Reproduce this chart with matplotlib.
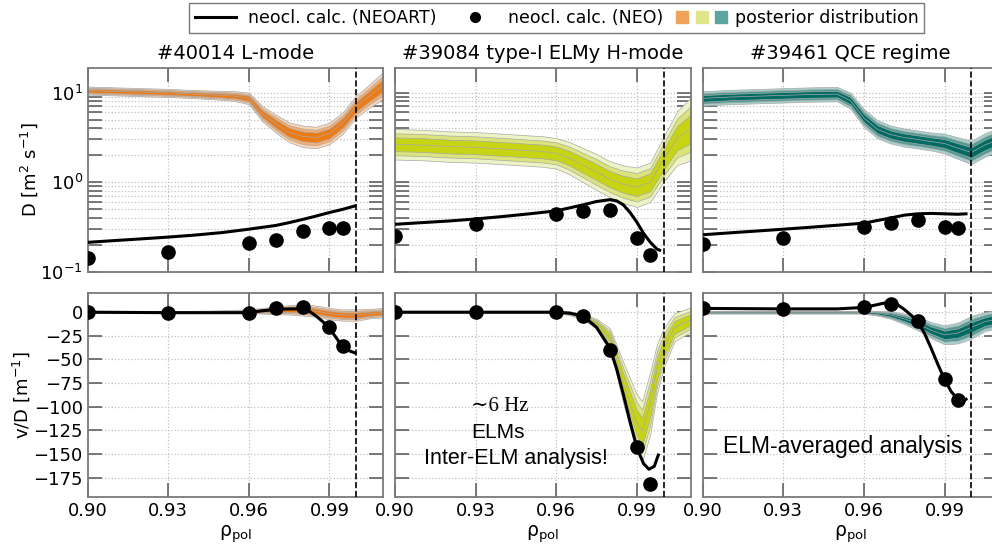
import numpy as np
import matplotlib
matplotlib.use("Agg")
import matplotlib.pyplot as plt
from matplotlib.lines import Line2D
from matplotlib.legend_handler import HandlerTuple
from matplotlib.ticker import LogLocator, FixedLocator, NullFormatter

plt.rcParams['font.family'] = ['DejaVu Sans']
plt.rcParams['mathtext.fontset'] = 'dejavusans'

titles = ["#40014 L-mode", "#39084 type-I ELMy H-mode", "#39461 QCE regime"]

# ---- NEO points (same radial positions for all shots)
neo_rho = [0.90, 0.93, 0.96, 0.97, 0.98, 0.99, 0.995]
neo_D_L = [0.142, 0.166, 0.212, 0.227, 0.289, 0.31, 0.31]
neo_D_H = [0.255, 0.344, 0.445, 0.484, 0.497, 0.24, 0.153]
neo_D_Q = [0.206, 0.24, 0.316, 0.35, 0.38, 0.316, 0.308]
neo_vD_L = [0.0, -0.5, -0.5, 4.5, 5.0, -16.0, -36.0]
neo_vD_H = [0.0, 0.0, 0.0, -3.5, -40.0, -143.0, -182.0]
neo_vD_Q = [4.0, 3.5, 5.0, 9.0, -9.5, -71.0, -93.0]

# ---- NEOART curves
neoart_rho_L = [0.90, 0.91, 0.92, 0.93, 0.94, 0.95, 0.96, 0.97, 0.975, 0.98, 0.985, 0.99, 0.995, 0.9995]
neoart_D_L = [0.214, 0.224, 0.234, 0.245, 0.258, 0.275, 0.30, 0.33, 0.355, 0.385, 0.42, 0.46, 0.50, 0.545]
neoart_rho_H = [0.90, 0.91, 0.92, 0.93, 0.94, 0.95, 0.96, 0.97, 0.975, 0.98, 0.9825, 0.985, 0.9875,
                0.99, 0.9925, 0.995, 0.9975, 0.9985]
neoart_D_H = [0.34, 0.355, 0.37, 0.39, 0.415, 0.445, 0.48, 0.56, 0.61, 0.64, 0.62, 0.56, 0.46,
              0.36, 0.27, 0.215, 0.18, 0.175]
neoart_rho_Q = [0.90, 0.91, 0.92, 0.93, 0.94, 0.95, 0.96, 0.965, 0.97, 0.975, 0.98, 0.985, 0.99, 0.995, 0.998]
neoart_D_Q = [0.26, 0.273, 0.286, 0.30, 0.315, 0.332, 0.35, 0.375, 0.40, 0.43, 0.445, 0.45, 0.445, 0.44, 0.445]

neoart_vrho_L = [0.90, 0.93, 0.96, 0.965, 0.97, 0.975, 0.98, 0.9825, 0.985, 0.9875, 0.99, 0.9925, 0.995, 0.9975, 0.9995]
neoart_vD_L = [0.0, -0.5, -0.5, 1.5, 3.0, 3.5, 3.5, 1.0, -4.0, -10.0, -17.0, -27.0, -37.0, -41.0, -43.0]
neoart_vrho_H = [0.90, 0.93, 0.96, 0.965, 0.97, 0.975, 0.98, 0.9825, 0.985, 0.9875, 0.99, 0.9925,
                 0.9945, 0.9965, 0.998]
neoart_vD_H = [0.0, 0.0, 0.0, -1.0, -4.0, -16.0, -38.0, -60.0, -87.0, -116.0, -143.0, -160.0,
               -166.0, -163.0, -151.0]
neoart_vrho_Q = [0.90, 0.93, 0.95, 0.96, 0.965, 0.969, 0.9725, 0.975, 0.9775, 0.98, 0.9825, 0.985,
                 0.9875, 0.99, 0.9925, 0.995, 0.997, 0.998]
neoart_vD_Q = [4.0, 3.5, 3.5, 5.0, 8.0, 10.5, 8.0, 3.0, -3.0, -10.0, -22.0, -38.0,
               -55.0, -71.0, -84.0, -92.0, -94.0, -92.0]

# ---- posterior distributions: median and outer half-width
post_rho = [0.900, 0.910, 0.920, 0.930, 0.940, 0.950, 0.955, 0.960, 0.965, 0.970, 0.975,
            0.980, 0.985, 0.990, 0.995, 1.000, 1.005, 1.010]
post_D_L = [10.5, 10.3, 10.1, 9.9, 9.6, 9.3, 9.1, 8.6, 5.8, 4.5, 3.6, 3.25, 3.15, 3.5, 4.6, 7.0, 9.2, 12.0]
post_dex_L = [0.045, 0.045, 0.045, 0.045, 0.045, 0.05, 0.055, 0.065, 0.085, 0.1, 0.11, 0.12, 0.12, 0.12,
              0.12, 0.12, 0.13, 0.15]
post_D_H = [2.65, 2.6, 2.5, 2.45, 2.35, 2.25, 2.2, 2.1, 1.85, 1.55, 1.3, 1.08, 0.95, 0.88, 1.0, 1.8, 3.1, 3.9]
post_dex_H = [0.17, 0.17, 0.17, 0.17, 0.17, 0.17, 0.17, 0.17, 0.18, 0.19, 0.2, 0.2, 0.21, 0.22,
              0.22, 0.25, 0.3, 0.35]
post_D_Q = [8.6, 8.9, 9.1, 9.3, 9.5, 9.6, 8.1, 5.2, 3.9, 3.4, 3.15, 3.0, 2.85, 2.7, 2.4, 2.15, 2.6, 3.0]
post_dex_Q = [0.08, 0.08, 0.08, 0.08, 0.08, 0.08, 0.09, 0.1, 0.1, 0.1, 0.1, 0.1, 0.1, 0.11,
              0.12, 0.13, 0.13, 0.13]

postv_rho_L = [0.90, 0.93, 0.95, 0.96, 0.965, 0.97, 0.975, 0.98, 0.985, 0.99, 0.995, 1.0, 1.005, 1.01]
postv_vD_L = [0.0, 0.0, 0.5, 1.0, 1.5, 2.0, 2.5, 2.5, 1.0, -1.5, -3.0, -3.0, -1.5, -0.5]
postv_w_L = [1.0, 1.0, 1.5, 2.0, 3.0, 4.0, 5.0, 6.0, 6.0, 6.0, 6.0, 6.0, 5.0, 5.0]
postv_rho_H = [0.90, 0.93, 0.96, 0.965, 0.97, 0.975, 0.98, 0.985, 0.99, 0.992, 0.995, 0.9975,
               1.0, 1.004, 1.01]
postv_vD_H = [0.0, 0.0, 0.0, -1.0, -5.0, -12.0, -27.0, -75.0, -117.0, -126.0, -96.0, -60.0,
              -38.0, -16.0, -8.0]
postv_w_H = [1.0, 1.0, 1.0, 2.0, 3.0, 5.0, 10.0, 22.0, 30.0, 32.0, 33.0, 26.0, 21.0, 15.0, 13.0]
postv_rho_Q = [0.90, 0.93, 0.96, 0.965, 0.97, 0.975, 0.98, 0.985, 0.99, 0.995, 1.0, 1.005, 1.01]
postv_vD_Q = [0.0, 0.0, 0.0, -1.0, -3.0, -7.0, -12.0, -19.0, -24.0, -22.0, -16.0, -10.0, -7.0]
postv_w_Q = [1.5, 1.5, 1.5, 2.5, 4.0, 5.5, 7.0, 8.5, 10.0, 11.0, 12.0, 10.0, 10.0]

band_colors = {
    'L': ['#fad7b8', '#f4ad72', '#ee7a12'],
    'H': ['#eef3c6', '#dbe47c', '#c6d414'],
    'Q': ['#a9d0cc', '#4f9b94', '#006b63'],
}
legend_colors = ['#f0a35a', '#dfe78a', '#5aa59e']
levels = [1.0, 0.72, 0.45]

fig = plt.figure(figsize=(9.92, 5.44), dpi=100)

lefts = [0.0884, 0.3982, 0.7084]
width = 0.2979
top_b, top_h = 0.5, 0.3759
bot_b, bot_h = 0.087, 0.3739

grid_kw = dict(color='#c0c0c0', linestyle=':', linewidth=0.9)
spine_col = '#7a7a7a'


def style(ax):
    for s in ax.spines.values():
        s.set_color(spine_col)
        s.set_linewidth(1.3)
    ax.tick_params(which='both', direction='in', top=True, right=True,
                   length=10, width=1.1, color='#555555', labelsize=13)
    ax.set_xlim(0.90, 1.01)
    ax.xaxis.set_major_locator(FixedLocator([0.90, 0.93, 0.96, 0.99]))
    ax.axvline(1.0, color='black', linestyle='--', linewidth=1.2, zorder=6)


def band(ax, x, med, w, cols, log):
    x = np.asarray(x); med = np.asarray(med); w = np.asarray(w)
    for lev, c in zip(levels, cols):
        if log:
            lo = med * 10 ** (-lev * w); hi = med * 10 ** (lev * w)
        else:
            lo = med - lev * w; hi = med + lev * w
        ax.fill_between(x, lo, hi, facecolor=c, edgecolor='#a8a8a8', linewidth=0.5, zorder=2)
    ax.plot(x, med, color='#a8a8a8', lw=0.5, zorder=2)


data_top = [
    (post_D_L, post_dex_L, neoart_rho_L, neoart_D_L, neo_D_L, 'L'),
    (post_D_H, post_dex_H, neoart_rho_H, neoart_D_H, neo_D_H, 'H'),
    (post_D_Q, post_dex_Q, neoart_rho_Q, neoart_D_Q, neo_D_Q, 'Q'),
]
data_bot = [
    (postv_rho_L, postv_vD_L, postv_w_L, neoart_vrho_L, neoart_vD_L, neo_vD_L, 'L'),
    (postv_rho_H, postv_vD_H, postv_w_H, neoart_vrho_H, neoart_vD_H, neo_vD_H, 'H'),
    (postv_rho_Q, postv_vD_Q, postv_w_Q, neoart_vrho_Q, neoart_vD_Q, neo_vD_Q, 'Q'),
]

for i in range(3):
    # top row: D
    ax = fig.add_axes([lefts[i], top_b, width, top_h])
    style(ax)
    ax.set_yscale('log')
    ax.set_ylim(0.1, 19)
    ax.yaxis.set_major_locator(LogLocator(base=10, numticks=10))
    ax.yaxis.set_minor_locator(LogLocator(base=10, subs=np.arange(2, 10), numticks=20))
    ax.yaxis.set_minor_formatter(NullFormatter())
    ax.grid(True, which='major', axis='x', **grid_kw)
    ax.grid(True, which='both', axis='y', **grid_kw)
    med, dex, nr, nD, neo, key = data_top[i]
    band(ax, post_rho, med, dex, band_colors[key], True)
    ax.plot(nr, nD, color='black', lw=2.2, zorder=5)
    ax.plot(neo_rho, neo, 'o', color='black', ms=9.5, zorder=5)
    ax.set_xticklabels([])
    ax.set_title(titles[i], fontsize=14, pad=6)
    if i == 0:
        ax.set_ylabel(r'D [m$^2$ s$^{-1}$]', fontsize=13)
        ax.yaxis.set_label_coords(-0.16, 0.5)
    else:
        ax.set_yticklabels([])

    # bottom row: v/D
    ax2 = fig.add_axes([lefts[i], bot_b, width, bot_h])
    style(ax2)
    ax2.set_ylim(-195, 20)
    ax2.yaxis.set_major_locator(FixedLocator(np.arange(-175, 1, 25)))
    ax2.grid(True, which='major', **grid_kw)
    pr, pm, pw, nr, nv, neo, key = data_bot[i]
    band(ax2, pr, pm, pw, band_colors[key], False)
    ax2.plot(nr, nv, color='black', lw=2.2, zorder=5)
    ax2.plot(neo_rho, neo, 'o', color='black', ms=9.5, zorder=5)
    ax2.set_xticklabels(['0.90', '0.93', '0.96', '0.99'])
    ax2.set_xlabel('\u03c1$_{\\mathrm{pol}}$', fontsize=13.5, labelpad=3)
    if i == 0:
        ax2.set_ylabel(r'v/D [m$^{-1}$]', fontsize=13)
        ax2.yaxis.set_label_coords(-0.19, 0.5)
    else:
        ax2.set_yticklabels([])

    if i == 1:
        ax2.text(0.355, 0.445, '\u223c6 Hz', transform=ax2.transAxes, ha='center', va='center',
                 fontsize=15, family=['Liberation Serif', 'DejaVu Serif'], zorder=7)
        ax2.text(0.35, 0.315, 'ELMs', transform=ax2.transAxes, ha='center', va='center',
                 fontsize=15, family=['Liberation Sans', 'DejaVu Sans'], zorder=7)
        ax2.text(0.41, 0.19, 'Inter-ELM analysis!', transform=ax2.transAxes, ha='center', va='center',
                 fontsize=15.5, family=['Liberation Sans', 'DejaVu Sans'], zorder=7)
    if i == 2:
        ax2.text(0.475, 0.245, 'ELM-averaged analysis', transform=ax2.transAxes, ha='center',
                 va='center', fontsize=16.5, family=['Liberation Sans', 'DejaVu Sans'], zorder=7)

handles = [Line2D([], [], color='black', lw=2.2),
           Line2D([], [], color='black', marker='o', ls='none', ms=7),
           tuple(Line2D([], [], color=c, marker='s', ls='none', ms=8) for c in legend_colors)]
labels = ['neocl. calc. (NEOART)', 'neocl. calc. (NEO)', 'posterior distribution']
fig.legend(handles, labels, loc='center', bbox_to_anchor=(0.561, 0.967), ncol=3,
           fontsize=12.5, frameon=True, fancybox=False, edgecolor='#555555',
           handler_map={tuple: HandlerTuple(ndivide=None, pad=1.0)},
           handlelength=2.4, handletextpad=0.7, columnspacing=1.0,
           borderpad=0.35)

fig.savefig('out.png', dpi=100)
